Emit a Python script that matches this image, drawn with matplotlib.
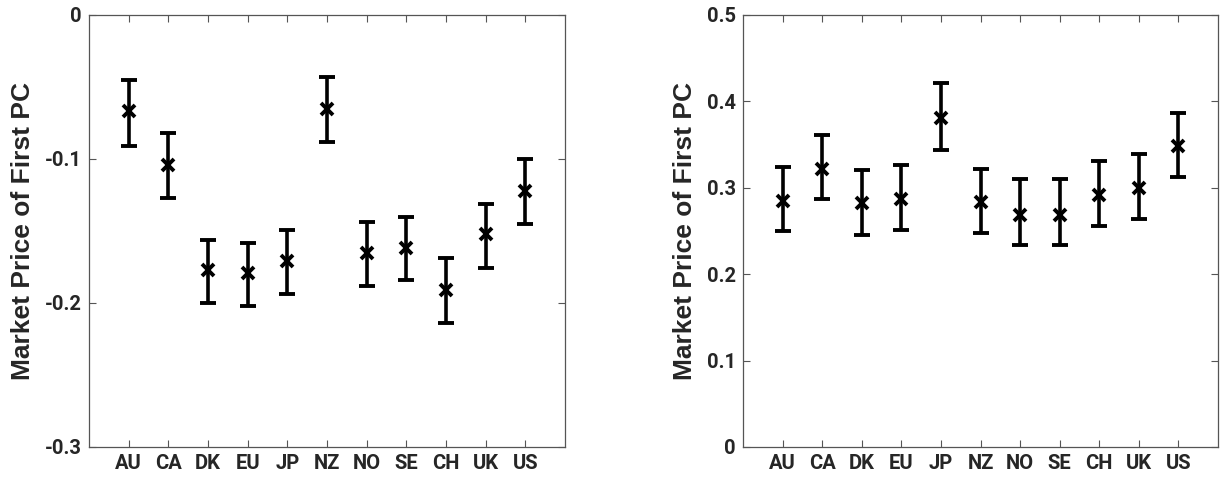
import matplotlib
matplotlib.use("Agg")
import matplotlib.pyplot as plt

countries = ["AU", "CA", "DK", "EU", "JP", "NZ", "NO", "SE", "CH", "UK", "US"]

left_mean = [-0.067, -0.104, -0.177, -0.179, -0.171, -0.065, -0.165, -0.162, -0.191, -0.152, -0.122]
left_upper = [-0.045, -0.082, -0.156, -0.158, -0.149, -0.043, -0.144, -0.140, -0.169, -0.131, -0.100]
left_lower = [-0.091, -0.127, -0.200, -0.202, -0.194, -0.088, -0.188, -0.184, -0.214, -0.176, -0.145]

right_mean = [0.285, 0.322, 0.282, 0.287, 0.381, 0.284, 0.269, 0.269, 0.292, 0.300, 0.348]
right_upper = [0.324, 0.361, 0.321, 0.326, 0.421, 0.322, 0.310, 0.310, 0.331, 0.339, 0.386]
right_lower = [0.250, 0.287, 0.245, 0.251, 0.344, 0.248, 0.234, 0.234, 0.256, 0.264, 0.313]

left_yticks = [-0.3, -0.2, -0.1, 0]
left_yticklabels = ["-0.3", "-0.2", "-0.1", "0"]
right_yticks = [0, 0.1, 0.2, 0.3, 0.4, 0.5]
right_yticklabels = ["0", "0.1", "0.2", "0.3", "0.4", "0.5"]
ylabel = "Market Price of First PC"

tick_font = "Roboto"
tick_size = 14.5

fig = plt.figure(figsize=(12.21, 4.82), dpi=100)
W, H = 1221, 482
ax1 = fig.add_axes([89 / W, (H - 447) / H, 476 / W, 432 / H])
ax2 = fig.add_axes([743 / W, (H - 447) / H, 475 / W, 432 / H])

def draw(ax, mean, upper, lower, ylim, yticks, yticklabels):
    x = list(range(1, len(countries) + 1))
    err = [[m - l for m, l in zip(mean, lower)], [u - m for m, u in zip(mean, upper)]]
    ax.errorbar(x, mean, yerr=err, fmt="x", color="black", ecolor="black",
                elinewidth=2.6, capsize=6, capthick=2.6, markersize=8,
                markeredgewidth=2.8)
    ax.set_xlim(0, 12)
    ax.set_ylim(*ylim)
    ax.set_xticks(x)
    ax.set_xticklabels(countries)
    ax.set_yticks(yticks)
    ax.set_yticklabels(yticklabels)
    ax.tick_params(direction="in", top=True, right=True, length=5, width=0.8,
                   color="#555555", pad=5)
    for lab in ax.get_xticklabels() + ax.get_yticklabels():
        lab.set_fontfamily(tick_font)
        lab.set_fontweight("bold")
        lab.set_fontsize(tick_size)
        lab.set_color("#262626")
    for s in ax.spines.values():
        s.set_color("#555555")
        s.set_linewidth(0.9)
    ax.set_ylabel(ylabel, fontfamily="Liberation Sans", fontweight="bold",
                  fontsize=19, color="#262626", labelpad=7)

draw(ax1, left_mean, left_upper, left_lower, (-0.3, 0), left_yticks, left_yticklabels)
draw(ax2, right_mean, right_upper, right_lower, (0, 0.5), right_yticks, right_yticklabels)

fig.savefig("out.png", dpi=100)
